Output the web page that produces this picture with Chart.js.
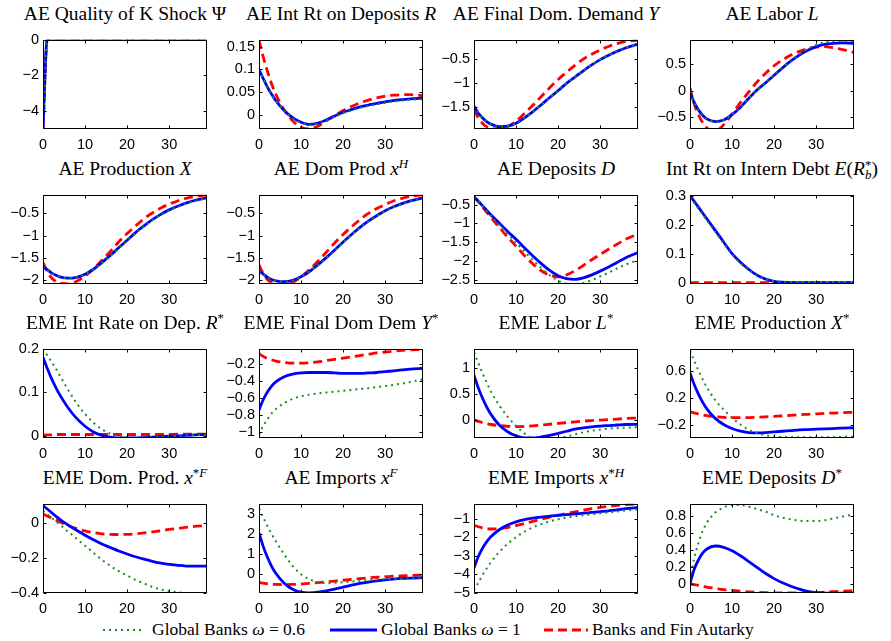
<!DOCTYPE html>
<html>
<head>
<meta charset="utf-8">
<script src="https://cdn.jsdelivr.net/npm/chart.js@4.4.1/dist/chart.umd.min.js"></script>
<style>
  body { margin: 0; background: #fff; }
  #fig { position: relative; width: 891px; height: 641px; overflow: hidden; background: #fff; }
  .ptitle { position: absolute; width: 300px; text-align: center; white-space: nowrap;
            font-family: "Liberation Serif", "DejaVu Serif", serif; font-size: 19.5px; line-height: 20px; color: #000; }
  .ptitle sup, .ptitle sub { font-size: 13px; line-height: 0; }
  .ss { display: inline-block; vertical-align: -4px; line-height: 10px; font-size: 13px; text-align: left; }
  .ss span { display: block; }
  canvas { position: absolute; }
  .leg { position: absolute; top: 619px; font-family: "Liberation Serif", serif; font-size: 17.5px; line-height: 20px; white-space: nowrap; }
  .legline { position: absolute; top: 620px; }
</style>
</head>
<body>
<div id="fig"></div>
<script>
// impulse responses, 40 quarters; sampled periods
const PERIODS = [0, 1, 2, 3, 4, 6, 8, 10, 12, 14, 16, 18, 20, 22, 24, 26, 28, 30, 32, 34, 36, 39];

// AE Quality of K Shock
const psiW06 = [-5, 0, 0, 0, 0, 0, 0, 0, 0, 0, 0, 0, 0, 0, 0, 0, 0, 0, 0, 0, 0, 0];
const psiW1  = [-5, 0, 0, 0, 0, 0, 0, 0, 0, 0, 0, 0, 0, 0, 0, 0, 0, 0, 0, 0, 0, 0];
const psiAut = [-5, 0, 0, 0, 0, 0, 0, 0, 0, 0, 0, 0, 0, 0, 0, 0, 0, 0, 0, 0, 0, 0];

// AE Int Rt on Deposits R
const rW06 = [0.100, 0.080, 0.061, 0.045, 0.031, 0.009, -0.008, -0.018, -0.023, -0.020, -0.013, -0.005, 0.003, 0.009, 0.015, 0.019, 0.023, 0.026, 0.029, 0.031, 0.033, 0.034];
const rW1  = [0.100, 0.080, 0.061, 0.045, 0.031, 0.009, -0.007, -0.017, -0.022, -0.019, -0.012, -0.003, 0.005, 0.011, 0.017, 0.021, 0.025, 0.028, 0.031, 0.033, 0.035, 0.036];
const rAut = [0.165, 0.128, 0.096, 0.068, 0.045, 0.010, -0.014, -0.028, -0.032, -0.026, -0.014, -0.002, 0.009, 0.018, 0.026, 0.032, 0.037, 0.041, 0.043, 0.044, 0.044, 0.042];

// AE Final Dom. Demand Y
const yW06 = [-1.47, -1.61, -1.72, -1.80, -1.85, -1.90, -1.89, -1.83, -1.72, -1.59, -1.45, -1.30, -1.16, -1.01, -0.88, -0.75, -0.63, -0.52, -0.43, -0.35, -0.28, -0.20];
const yW1  = [-1.48, -1.62, -1.72, -1.80, -1.85, -1.90, -1.89, -1.83, -1.72, -1.59, -1.45, -1.30, -1.16, -1.01, -0.88, -0.75, -0.63, -0.52, -0.43, -0.35, -0.28, -0.20];
const yAut = [-1.55, -1.72, -1.83, -1.90, -1.94, -1.95, -1.90, -1.79, -1.63, -1.46, -1.28, -1.10, -0.93, -0.78, -0.64, -0.51, -0.41, -0.32, -0.25, -0.19, -0.15, -0.12];

// AE Labor L
const lW06 = [-0.03, -0.22, -0.36, -0.46, -0.53, -0.58, -0.55, -0.45, -0.31, -0.14, 0.02, 0.16, 0.30, 0.44, 0.57, 0.69, 0.79, 0.86, 0.91, 0.93, 0.94, 0.93];
const lW1  = [-0.03, -0.22, -0.36, -0.46, -0.53, -0.58, -0.55, -0.45, -0.31, -0.14, 0.02, 0.15, 0.29, 0.43, 0.56, 0.67, 0.76, 0.83, 0.87, 0.89, 0.90, 0.89];
const lAut = [0.05, -0.25, -0.45, -0.60, -0.70, -0.76, -0.64, -0.44, -0.22, -0.02, 0.17, 0.33, 0.47, 0.58, 0.67, 0.74, 0.79, 0.82, 0.83, 0.81, 0.78, 0.72];

// AE Production X
const xW06 = [-1.68, -1.76, -1.83, -1.88, -1.92, -1.95, -1.93, -1.86, -1.75, -1.61, -1.45, -1.28, -1.11, -0.94, -0.79, -0.65, -0.53, -0.43, -0.35, -0.28, -0.22, -0.16];
const xW1  = [-1.68, -1.76, -1.83, -1.88, -1.92, -1.95, -1.93, -1.86, -1.75, -1.60, -1.44, -1.27, -1.10, -0.93, -0.78, -0.64, -0.52, -0.42, -0.34, -0.27, -0.21, -0.15];
const xAut = [-1.60, -1.80, -1.94, -2.02, -2.06, -2.08, -2.02, -1.90, -1.74, -1.55, -1.35, -1.14, -0.95, -0.78, -0.62, -0.49, -0.38, -0.29, -0.22, -0.16, -0.12, -0.08];

// AE Dom Prod x^H
const xhW06 = [-1.78, -1.86, -1.93, -1.98, -2.01, -2.03, -2.00, -1.92, -1.80, -1.66, -1.50, -1.33, -1.15, -0.98, -0.82, -0.68, -0.56, -0.45, -0.36, -0.29, -0.23, -0.16];
const xhW1  = [-1.78, -1.86, -1.93, -1.98, -2.01, -2.03, -2.00, -1.92, -1.80, -1.65, -1.49, -1.32, -1.14, -0.97, -0.81, -0.67, -0.55, -0.44, -0.35, -0.28, -0.22, -0.15];
const xhAut = [-1.65, -1.85, -1.98, -2.05, -2.09, -2.10, -2.04, -1.92, -1.76, -1.57, -1.37, -1.16, -0.97, -0.80, -0.64, -0.50, -0.39, -0.30, -0.22, -0.16, -0.12, -0.08];

// AE Deposits D
const dW06 = [-0.30, -0.41, -0.54, -0.67, -0.80, -1.04, -1.28, -1.51, -1.74, -1.97, -2.18, -2.37, -2.51, -2.59, -2.60, -2.57, -2.50, -2.40, -2.30, -2.19, -2.09, -1.97];
const dW1  = [-0.30, -0.41, -0.53, -0.65, -0.77, -0.99, -1.21, -1.42, -1.64, -1.86, -2.06, -2.24, -2.38, -2.46, -2.48, -2.44, -2.36, -2.26, -2.15, -2.03, -1.91, -1.77];
const dAut = [-0.30, -0.42, -0.56, -0.70, -0.84, -1.10, -1.36, -1.60, -1.85, -2.07, -2.25, -2.37, -2.41, -2.36, -2.25, -2.11, -1.96, -1.82, -1.68, -1.55, -1.42, -1.28];

// Int Rt on Intern Debt E(R_b*)
const rbW06 = [0.295, 0.275, 0.255, 0.235, 0.215, 0.175, 0.135, 0.097, 0.067, 0.043, 0.024, 0.012, 0.005, 0.002, 0.001, 0.001, 0.002, 0.002, 0.002, 0.002, 0.002, 0.002];
const rbW1  = [0.300, 0.280, 0.260, 0.240, 0.220, 0.180, 0.140, 0.100, 0.070, 0.045, 0.025, 0.012, 0.004, 0.001, 0, 0, 0, 0, 0, 0, 0, 0];
const rbAut = [0, 0, 0, 0, 0, 0, 0, 0, 0, 0, 0, 0, 0, 0, 0, 0, 0, 0, 0, 0, 0, 0];

// EME Int Rate on Dep. R*
const rsW06 = [0.200, 0.185, 0.170, 0.155, 0.138, 0.105, 0.075, 0.050, 0.030, 0.015, 0.005, 0.000, -0.003, -0.004, -0.004, -0.003, -0.002, -0.001, 0.000, 0.001, 0.002, 0.002];
const rsW1  = [0.180, 0.155, 0.132, 0.112, 0.094, 0.064, 0.040, 0.022, 0.009, 0.001, -0.003, -0.005, -0.005, -0.005, -0.004, -0.003, -0.002, -0.001, 0.000, 0.001, 0.002, 0.003];
const rsAut = [0.001, 0.002, 0.002, 0.003, 0.003, 0.003, 0.003, 0.003, 0.003, 0.003, 0.003, 0.003, 0.003, 0.003, 0.003, 0.003, 0.003, 0.003, 0.004, 0.004, 0.004, 0.004];

// EME Final Dom Dem Y*
const ysW06 = [-1.03, -0.93, -0.85, -0.78, -0.73, -0.66, -0.61, -0.58, -0.56, -0.545, -0.535, -0.525, -0.515, -0.505, -0.495, -0.485, -0.47, -0.46, -0.445, -0.43, -0.41, -0.38];
const ysW1  = [-0.74, -0.62, -0.53, -0.46, -0.41, -0.35, -0.32, -0.305, -0.30, -0.30, -0.30, -0.305, -0.31, -0.31, -0.31, -0.305, -0.30, -0.29, -0.28, -0.27, -0.26, -0.25];
const ysAut = [-0.08, -0.11, -0.135, -0.15, -0.165, -0.18, -0.19, -0.19, -0.185, -0.175, -0.16, -0.145, -0.13, -0.115, -0.10, -0.085, -0.07, -0.06, -0.05, -0.04, -0.035, -0.03];

// EME Labor L*
const lsW06 = [1.30, 1.10, 0.90, 0.72, 0.55, 0.28, 0.06, -0.12, -0.26, -0.36, -0.40, -0.40, -0.36, -0.32, -0.28, -0.24, -0.21, -0.19, -0.17, -0.16, -0.15, -0.14];
const lsW1  = [0.86, 0.62, 0.42, 0.25, 0.11, -0.10, -0.23, -0.31, -0.35, -0.35, -0.33, -0.30, -0.26, -0.22, -0.18, -0.155, -0.135, -0.12, -0.11, -0.10, -0.09, -0.085];
const lsAut = [0.00, -0.03, -0.05, -0.07, -0.09, -0.11, -0.125, -0.13, -0.125, -0.115, -0.10, -0.085, -0.07, -0.055, -0.04, -0.025, -0.015, -0.005, 0.005, 0.015, 0.025, 0.035];

// EME Production X*
const xsW06 = [0.90, 0.75, 0.61, 0.48, 0.36, 0.17, 0.03, -0.09, -0.19, -0.27, -0.32, -0.35, -0.37, -0.375, -0.38, -0.38, -0.38, -0.38, -0.38, -0.38, -0.375, -0.37];
const xsW1  = [0.57, 0.40, 0.26, 0.14, 0.04, -0.10, -0.19, -0.25, -0.29, -0.31, -0.315, -0.31, -0.30, -0.29, -0.28, -0.27, -0.265, -0.26, -0.255, -0.25, -0.245, -0.24];
const xsAut = [0.00, -0.02, -0.035, -0.05, -0.06, -0.075, -0.085, -0.09, -0.09, -0.088, -0.083, -0.077, -0.07, -0.063, -0.055, -0.047, -0.04, -0.033, -0.027, -0.021, -0.016, -0.01];

// EME Dom. Prod. x^{*F}
const xsfW06 = [0.07, 0.05, 0.03, 0.01, -0.01, -0.05, -0.09, -0.13, -0.17, -0.21, -0.245, -0.275, -0.30, -0.325, -0.345, -0.365, -0.38, -0.39, -0.395, -0.40, -0.40, -0.40];
const xsfW1  = [0.10, 0.08, 0.06, 0.04, 0.02, -0.012, -0.042, -0.07, -0.096, -0.12, -0.14, -0.16, -0.177, -0.193, -0.207, -0.219, -0.229, -0.237, -0.242, -0.246, -0.247, -0.247];
const xsfAut = [0.05, 0.04, 0.028, 0.017, 0.006, -0.015, -0.032, -0.045, -0.055, -0.062, -0.065, -0.066, -0.065, -0.062, -0.057, -0.051, -0.044, -0.037, -0.031, -0.025, -0.02, -0.015];

// AE Imports x^F
const xfW06 = [3.30, 2.85, 2.42, 2.02, 1.65, 1.00, 0.42, 0.00, -0.25, -0.40, -0.45, -0.43, -0.40, -0.37, -0.33, -0.30, -0.27, -0.25, -0.23, -0.22, -0.21, -0.20];
const xfW1  = [2.08, 1.40, 0.85, 0.40, 0.05, -0.45, -0.75, -0.90, -0.93, -0.90, -0.83, -0.74, -0.64, -0.55, -0.46, -0.39, -0.33, -0.28, -0.24, -0.21, -0.19, -0.17];
const xfAut = [-0.42, -0.45, -0.48, -0.50, -0.51, -0.52, -0.51, -0.49, -0.46, -0.42, -0.38, -0.34, -0.30, -0.26, -0.22, -0.18, -0.15, -0.12, -0.10, -0.08, -0.06, -0.04];

// EME Imports x^{*H}
const xshW06 = [-4.85, -4.45, -4.05, -3.68, -3.35, -2.80, -2.35, -2.00, -1.70, -1.47, -1.30, -1.15, -1.04, -0.95, -0.88, -0.82, -0.77, -0.72, -0.67, -0.62, -0.57, -0.50];
const xshW1  = [-3.65, -3.05, -2.60, -2.25, -1.98, -1.60, -1.35, -1.18, -1.06, -0.98, -0.92, -0.87, -0.83, -0.79, -0.75, -0.71, -0.67, -0.63, -0.58, -0.53, -0.47, -0.40];
const xshAut = [-1.36, -1.44, -1.50, -1.54, -1.56, -1.55, -1.48, -1.38, -1.27, -1.15, -1.03, -0.92, -0.82, -0.73, -0.64, -0.55, -0.47, -0.40, -0.34, -0.29, -0.25, -0.21];

// EME Deposits D*
const dsW06 = [0.05, 0.30, 0.48, 0.62, 0.72, 0.84, 0.90, 0.93, 0.93, 0.91, 0.88, 0.85, 0.81, 0.78, 0.76, 0.745, 0.74, 0.74, 0.75, 0.77, 0.79, 0.82];
const dsW1  = [0.00, 0.17, 0.28, 0.36, 0.41, 0.445, 0.43, 0.39, 0.33, 0.26, 0.19, 0.12, 0.06, 0.01, -0.03, -0.065, -0.09, -0.105, -0.11, -0.112, -0.112, -0.112];
const dsAut = [0.00, -0.01, -0.02, -0.03, -0.04, -0.055, -0.07, -0.08, -0.09, -0.097, -0.102, -0.106, -0.108, -0.11, -0.11, -0.11, -0.108, -0.105, -0.10, -0.095, -0.09, -0.083];

const TITLES = [
  "AE Quality of K Shock &Psi;",
  "AE Int Rt on Deposits <i>R</i>",
  "AE Final Dom. Demand <i>Y</i>",
  "AE Labor <i>L</i>",
  "AE Production <i>X</i>",
  "AE Dom Prod <i>x</i><sup><i>H</i></sup>",
  "AE Deposits <i>D</i>",
  "Int Rt on Intern Debt <i>E</i>(<i>R</i><span class='ss'><span>*</span><span><i>b</i></span></span>)",
  "EME Int Rate on Dep. <i>R</i><sup>*</sup>",
  "EME Final Dom Dem <i>Y</i><sup>*</sup>",
  "EME Labor <i>L</i><sup>*</sup>",
  "EME Production <i>X</i><sup>*</sup>",
  "EME Dom. Prod. <i>x</i><sup>*<i>F</i></sup>",
  "AE Imports <i>x</i><sup><i>F</i></sup>",
  "EME Imports <i>x</i><sup>*<i>H</i></sup>",
  "EME Deposits <i>D</i><sup>*</sup>"
];

const Y_TICKS = [
  [-4, -2, 0], [0, 0.05, 0.1, 0.15], [-1.5, -1, -0.5], [-0.5, 0, 0.5],
  [-2, -1.5, -1, -0.5], [-2, -1.5, -1, -0.5], [-2.5, -2, -1.5, -1, -0.5], [0, 0.1, 0.2, 0.3],
  [0, 0.1, 0.2], [-1, -0.8, -0.6, -0.4, -0.2], [0, 0.5, 1], [-0.2, 0, 0.2, 0.4, 0.6, 0.8],
  [-0.4, -0.2, 0], [0, 1, 2, 3], [-5, -4, -3, -2, -1], [0, 0.2, 0.4, 0.6, 0.8]
];
const Y_LIMITS = [
  [-5, 0], [-0.032, 0.166], [-1.95, -0.11], [-0.72, 0.96],
  [-2.08, -0.08], [-2.08, -0.08], [-2.6, -0.24], [-0.005, 0.303],
  [-0.005, 0.2], [-1.07, -0.02], [-0.35, 1.37], [-0.39, 0.93],
  [-0.40, 0.11], [-0.94, 3.54], [-5.0, -0.2], [-0.11, 0.945]
];
const SERIES = [
  [psiW06, psiW1, psiAut], [rW06, rW1, rAut], [yW06, yW1, yAut], [lW06, lW1, lAut],
  [xW06, xW1, xAut], [xhW06, xhW1, xhAut], [dW06, dW1, dAut], [rbW06, rbW1, rbAut],
  [rsW06, rsW1, rsAut], [ysW06, ysW1, ysAut], [lsW06, lsW1, lsAut], [xsW06, xsW1, xsAut],
  [xsfW06, xsfW1, xsfAut], [xfW06, xfW1, xfAut], [xshW06, xshW1, xshAut], [dsW06, dsW1, dsAut]
];

// layout of the 4x4 grid (plot boxes)
const COL_LEFT = [43, 259, 474, 690];
const ROW_TOP = [31, 186, 340, 495];
const PLOT_W = 164, PLOT_H = 98;
const Y_AXIS_W = 45, X_AXIS_H = 26, PAD_T = 4, PAD_R = 6;

const GREEN = "rgb(34,139,34)";
const BLUE = "rgb(0,0,255)";
const RED = "rgb(255,0,0)";

const fmt = (v) => (v < 0 ? "\u2212" : "") + String(Math.abs(v));

// MATLAB style box with inward ticks on all sides
const boxPlugin = {
  id: "boxPlugin",
  afterDatasetsDraw(chart) {
    const { ctx, chartArea, scales } = chart;
    const l = Math.round(chartArea.left) + 0.5, r = Math.round(chartArea.right) - 0.5;
    const t = Math.round(chartArea.top) + 0.5, b = Math.round(chartArea.bottom) - 0.5;
    ctx.save();
    ctx.strokeStyle = "#000";
    ctx.lineWidth = 1;
    ctx.strokeRect(l, t, r - l, b - t);
    ctx.beginPath();
    scales.x.ticks.forEach((tk) => {
      const px = Math.round(scales.x.getPixelForValue(tk.value)) + 0.5;
      ctx.moveTo(px, b); ctx.lineTo(px, b - 3);
      ctx.moveTo(px, t); ctx.lineTo(px, t + 3);
    });
    scales.y.ticks.forEach((tk) => {
      const py = Math.round(scales.y.getPixelForValue(tk.value)) + 0.5;
      ctx.moveTo(l, py); ctx.lineTo(l + 3, py);
      ctx.moveTo(r, py); ctx.lineTo(r - 3, py);
    });
    ctx.stroke();
    ctx.restore();
  }
};

const fig = document.getElementById("fig");

SERIES.forEach((series, i) => {
  const col = i % 4, row = Math.floor(i / 4);
  const left = COL_LEFT[col], top = ROW_TOP[row];

  const title = document.createElement("div");
  title.className = "ptitle";
  title.innerHTML = TITLES[i];
  title.style.left = (left + PLOT_W / 2 - 150) + "px";
  title.style.top = (top - 27) + "px";
  fig.appendChild(title);

  const canvas = document.createElement("canvas");
  canvas.width = Y_AXIS_W + PLOT_W + PAD_R;
  canvas.height = PAD_T + PLOT_H + X_AXIS_H;
  canvas.style.left = (left - Y_AXIS_W) + "px";
  canvas.style.top = (top - PAD_T) + "px";
  fig.appendChild(canvas);

  const yTicks = Y_TICKS[i];
  const styles = [
    { color: GREEN, width: 2, dash: [2, 4] },
    { color: BLUE, width: 2.8, dash: [] },
    { color: RED, width: 2.8, dash: [9, 5] }
  ];

  new Chart(canvas.getContext("2d"), {
    type: "line",
    data: {
      datasets: series.map((vals, k) => ({
        data: PERIODS.map((p, j) => ({ x: p, y: vals[j] })),
        borderColor: styles[k].color,
        borderWidth: styles[k].width,
        borderDash: styles[k].dash,
        borderCapStyle: "butt",
        pointRadius: 0,
        fill: false,
        cubicInterpolationMode: "monotone"
      }))
    },
    options: {
      responsive: false,
      animation: false,
      devicePixelRatio: 1,
      layout: { padding: { left: 0, top: PAD_T, right: PAD_R, bottom: 0 } },
      plugins: { legend: { display: false }, tooltip: { enabled: false } },
      scales: {
        x: {
          type: "linear", min: 0, max: 39,
          grid: { display: false, drawTicks: false },
          border: { display: false },
          ticks: { stepSize: 10, includeBounds: false, autoSkip: false, maxRotation: 0,
                   color: "#000", padding: 7, font: { family: "Liberation Sans", size: 14.5 } },
          afterFit(s) { s.height = X_AXIS_H; }
        },
        y: {
          type: "linear", min: Y_LIMITS[i][0], max: Y_LIMITS[i][1],
          grid: { display: false, drawTicks: false },
          border: { display: false },
          afterBuildTicks(s) { s.ticks = yTicks.map((v) => ({ value: v })); },
          ticks: { color: "#000", padding: 4, font: { family: "Liberation Sans", size: 14.5 },
                   callback: (v) => fmt(v) },
          afterFit(s) { s.width = Y_AXIS_W; }
        }
      }
    },
    plugins: [boxPlugin]
  });
});

// legend at the bottom
const LEGEND = [
  { label: "Global Banks <i>&omega;</i> = 0.6", color: GREEN, dash: "2 4", width: 2, x0: 103, x1: 145, tx: 152 },
  { label: "Global Banks <i>&omega;</i> = 1", color: BLUE, dash: "", width: 3, x0: 330, x1: 377, tx: 381 },
  { label: "Banks and Fin Autarky", color: RED, dash: "9 5", width: 3, x0: 544, x1: 588, tx: 592 }
];
LEGEND.forEach((it) => {
  const svg = document.createElementNS("http://www.w3.org/2000/svg", "svg");
  svg.setAttribute("class", "legline");
  svg.setAttribute("width", it.x1 - it.x0);
  svg.setAttribute("height", 20);
  svg.style.left = it.x0 + "px";
  svg.innerHTML = `<line x1="0" y1="10" x2="${it.x1 - it.x0}" y2="10" stroke="${it.color}" stroke-width="${it.width}" ${it.dash ? `stroke-dasharray="${it.dash}"` : ""}/>`;
  fig.appendChild(svg);
  const t = document.createElement("div");
  t.className = "leg";
  t.style.left = it.tx + "px";
  t.innerHTML = it.label;
  fig.appendChild(t);
});
</script>
</body>
</html>
